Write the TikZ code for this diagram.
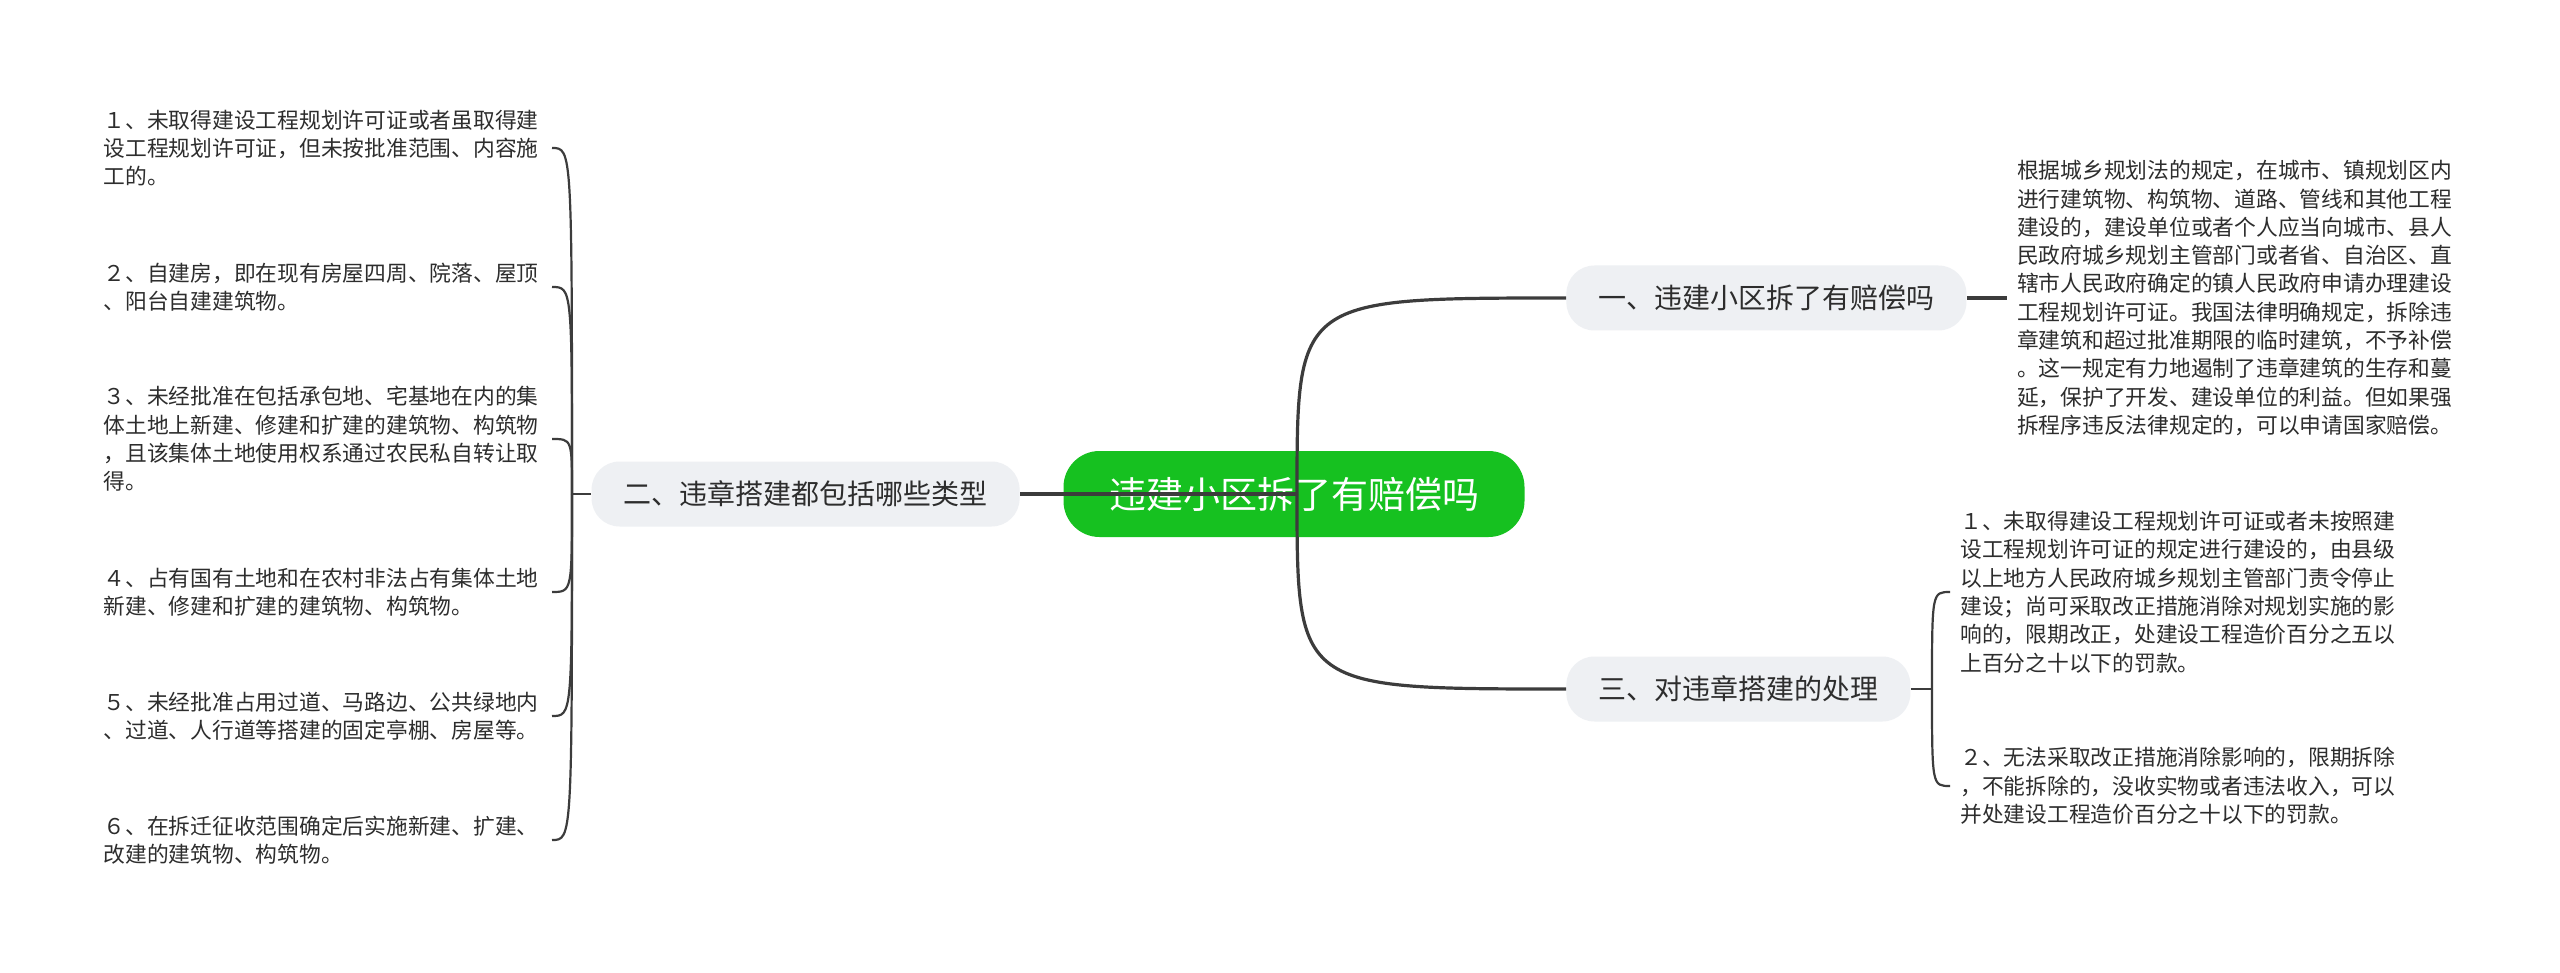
\documentclass[tikz,border=0pt]{standalone}
\usepackage{fontspec}
\usepackage{tikz}
\usetikzlibrary{positioning}
\newfontfamily\cjk{Noto Sans CJK SC}

\definecolor{rootgreen}{RGB}{22,193,32}
\definecolor{topicgray}{RGB}{238,240,243}
\definecolor{inkgray}{RGB}{45,45,45}
\definecolor{linegray}{RGB}{60,60,60}

\begin{document}
\begin{tikzpicture}[
    x=0.5pt, y=-0.5pt,
    root/.style={rectangle, fill=rootgreen, text=white, rounded corners=18pt,
                 minimum width=230.5pt, minimum height=43pt,
                 font=\cjk\fontsize{18.5pt}{22pt}\selectfont},
    topic/.style={rectangle, fill=topicgray, text=inkgray, rounded corners=14pt,
                  inner xsep=16pt, minimum height=32.5pt,
                  font=\cjk\fontsize{14pt}{17pt}\selectfont},
    leaf/.style={text width=219pt, align=left, inner xsep=5pt, text=inkgray,
                 font=\cjk\fontsize{10.875pt}{14.15pt}\selectfont},
    line/.style={draw, line width=1.6pt, linegray},
    twig/.style={draw, line width=1.1pt, linegray}
]
    \useasboundingbox (0,0) rectangle (2560,973);
    \fill [white] (0,0) rectangle (2560,973);

    % main topics
    \node [root] (root) at (1294,494) {违建小区拆了有赔偿吗};
    \node [topic, anchor=west] (comp)  at (1566,298) {一、违建小区拆了有赔偿吗};
    \node [topic, anchor=east] (types) at (1020,494) {二、违章搭建都包括哪些类型};
    \node [topic, anchor=west] (deal)  at (1566,689) {三、对违章搭建的处理};

    \coordinate (hub)  at (1297,494);
    \coordinate (lhub) at (572,494);
    \coordinate (rhub) at (1932,689);

    % branch one
    \node [leaf, right=20pt of comp] (law) {根据城乡规划法的规定，在城市、镇规划区内\\进行建筑物、构筑物、道路、管线和其他工程\\建设的，建设单位或者个人应当向城市、县人\\民政府城乡规划主管部门或者省、自治区、直\\辖市人民政府确定的镇人民政府申请办理建设\\工程规划许可证。我国法律明确规定，拆除违\\章建筑和超过批准期限的临时建筑，不予补偿\\。这一规定有力地遏制了违章建筑的生存和蔓\\延，保护了开发、建设单位的利益。但如果强\\拆程序违反法律规定的，可以申请国家赔偿。};

    % branch two
    \node [leaf, anchor=east] (t1) at (552,148) {１、未取得建设工程规划许可证或者虽取得建\\设工程规划许可证，但未按批准范围、内容施\\工的。};
    \node [leaf, anchor=east] (t2) at (552,287) {２、自建房，即在现有房屋四周、院落、屋顶\\、阳台自建建筑物。};
    \node [leaf, anchor=east] (t3) at (552,439) {３、未经批准在包括承包地、宅基地在内的集\\体土地上新建、修建和扩建的建筑物、构筑物\\，且该集体土地使用权系通过农民私自转让取\\得。};
    \node [leaf, anchor=east] (t4) at (552,592) {４、占有国有土地和在农村非法占有集体土地\\新建、修建和扩建的建筑物、构筑物。};
    \node [leaf, anchor=east] (t5) at (552,716) {５、未经批准占用过道、马路边、公共绿地内\\、过道、人行道等搭建的固定亭棚、房屋等。};
    \node [leaf, anchor=east] (t6) at (552,840) {６、在拆迁征收范围确定后实施新建、扩建、\\改建的建筑物、构筑物。};

    % branch three
    \node [leaf, anchor=west] (r1) at (1950,592) {１、未取得建设工程规划许可证或者未按照建\\设工程规划许可证的规定进行建设的，由县级\\以上地方人民政府城乡规划主管部门责令停止\\建设；尚可采取改正措施消除对规划实施的影\\响的，限期改正，处建设工程造价百分之五以\\上百分之十以下的罚款。};
    \node [leaf, anchor=west] (r2) at (1950,786) {２、无法采取改正措施消除影响的，限期拆除\\，不能拆除的，没收实物或者违法收入，可以\\并处建设工程造价百分之十以下的罚款。};

    % connectors
    \path [line] (hub) -- (types.east);
    \path [line] (hub) .. controls (hub |- comp.west) .. (comp.west);
    \path [line] (hub) .. controls (hub |- deal.west) .. (deal.west);
    \path [line] (comp.east) -- (law.west);

    \path [twig] (types.west) -- (lhub);
    \foreach \n in {1,...,6}
        \path [twig] (lhub) .. controls (lhub |- t\n.east) .. (t\n.east);

    \path [twig] (deal.east) -- (rhub);
    \foreach \n in {1,2}
        \path [twig] (rhub) .. controls (rhub |- r\n.west) .. (r\n.west);
\end{tikzpicture}
\end{document}
